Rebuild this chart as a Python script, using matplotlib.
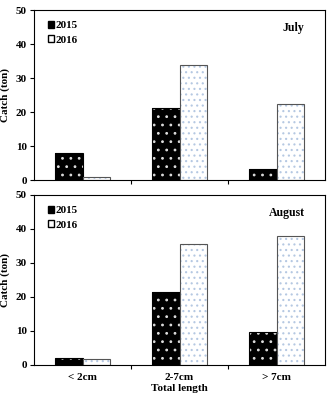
import matplotlib
matplotlib.use("Agg")
import matplotlib.pyplot as plt
import numpy as np
from matplotlib.patches import Patch

categories = ["< 2cm", "2-7cm", "> 7cm"]
july_2015 = [8.0, 21.3, 3.2]
july_2016 = [1.0, 33.8, 22.4]
aug_2015 = [2.0, 21.5, 9.8]
aug_2016 = [1.8, 35.5, 37.8]
years = ["2015", "2016"]

plt.rcParams['font.family'] = ['Liberation Serif', 'DejaVu Serif']
plt.rcParams['font.weight'] = 'bold'
plt.rcParams['hatch.linewidth'] = 0.8

fig = plt.figure(figsize=(3.33, 3.99), dpi=100)
ax1 = fig.add_axes([34/333, 1 - 180/399, 291/333, 170/399])
ax2 = fig.add_axes([34/333, 1 - 365/399, 291/333, 170/399])

x = np.arange(len(categories))
w = 0.285

def draw(ax, v15, v16, label, show_x):
    # 2015: black with white dots
    ax.bar(x - w/2, v15, w, color='black', edgecolor='#dddddd', hatch='..', linewidth=0)
    ax.bar(x - w/2, v15, w, fill=False, edgecolor='black', linewidth=0.8)
    # 2016: white with light blue dots
    ax.bar(x + w/2, v16, w, color='white', edgecolor='#b5c8e2', hatch='...', linewidth=0)
    ax.bar(x + w/2, v16, w, fill=False, edgecolor='#555555', linewidth=0.8)
    ax.set_xlim(-0.5, 2.5)
    ax.set_ylim(0, 50)
    ax.set_yticks([0, 10, 20, 30, 40, 50])
    ax.set_xticks(x)
    ax.set_xticks([0.5, 1.5], minor=True)
    ax.tick_params(axis='x', which='major', length=0, labelsize=8, pad=6)
    ax.tick_params(axis='x', which='minor', length=3, direction='out', width=0.8)
    ax.tick_params(axis='y', length=3, direction='out', labelsize=8, width=0.8, pad=2)
    if show_x:
        ax.set_xticklabels(categories)
        ax.set_xlabel("Total length", fontsize=8, fontweight='bold', labelpad=1)
    else:
        ax.set_xticklabels([])
    ax.set_ylabel("Catch (ton)", fontsize=8, fontweight='bold', labelpad=4)
    for s in ax.spines.values():
        s.set_linewidth(0.8)
    ax.text(0.93, 0.895, label, transform=ax.transAxes, fontsize=8.5, fontweight='bold',
            ha='right', va='center')
    handles = [Patch(facecolor='black', edgecolor='black'),
               Patch(facecolor='white', edgecolor='black')]
    ax.legend(handles, years, loc='upper left', frameon=False, fontsize=8,
              handlelength=0.55, handleheight=0.55, handletextpad=0.2,
              labelspacing=0.45, borderaxespad=0.3, bbox_to_anchor=(0.02, 0.98))

draw(ax1, july_2015, july_2016, "July", False)
draw(ax2, aug_2015, aug_2016, "August", True)

fig.savefig("out.png", dpi=100)
